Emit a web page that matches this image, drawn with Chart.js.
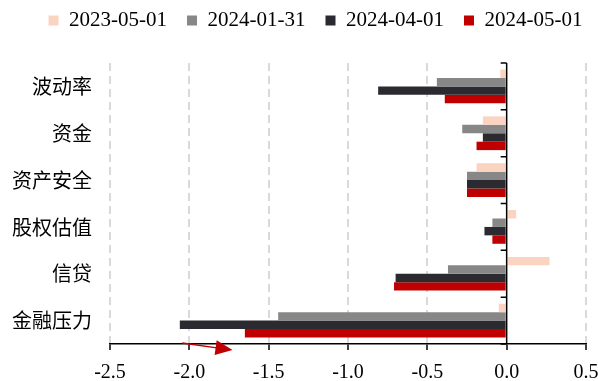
<!DOCTYPE html>
<html>
<head>
<meta charset="utf-8">
<script src="https://cdn.jsdelivr.net/npm/chart.js@4.4.1/dist/chart.umd.min.js"></script>
<style>
html,body{margin:0;padding:0;background:#fff;}
#wrap{width:598px;height:381px;position:relative;}
</style>
</head>
<body>
<div id="wrap"><canvas id="c" width="598" height="381"></canvas></div>
<script>
const categories = ['波动率','资金','资产安全','股权估值','信贷','金融压力'];
const seriesNames = ['2023-05-01','2024-01-31','2024-04-01','2024-05-01'];
const s2023_05_01 = [-0.04, -0.15, -0.19, 0.06, 0.27, -0.05];
const s2024_01_31 = [-0.44, -0.28, -0.25, -0.09, -0.37, -1.44];
const s2024_04_01 = [-0.81, -0.15, -0.25, -0.14, -0.70, -2.06];
const s2024_05_01 = [-0.39, -0.19, -0.25, -0.09, -0.71, -1.65];
const xTicks = [-2.5, -2.0, -1.5, -1.0, -0.5, 0.0, 0.5];
const colors = ['#FBD3C1', '#878787', '#2B2A30', '#C00000'];

const allSeries = [s2023_05_01, s2024_01_31, s2024_04_01, s2024_05_01];

const zeroAxisPlugin = {
  id: 'zeroAxis',
  afterDatasetsDraw(chart) {
    const {ctx, scales: {x, y}} = chart;
    const x0 = x.getPixelForValue(0);
    ctx.save();
    ctx.strokeStyle = '#000';
    ctx.lineWidth = 1.5;
    ctx.beginPath();
    ctx.moveTo(x0, y.top);
    ctx.lineTo(x0, y.bottom);
    ctx.stroke();
    const n = categories.length;
    const bounds = [y.top];
    for (let i = 0; i < n - 1; i++) {
      bounds.push((y.getPixelForValue(i) + y.getPixelForValue(i + 1)) / 2);
    }
    bounds.push(y.bottom);
    ctx.beginPath();
    bounds.forEach(b => { ctx.moveTo(x0 - 6, b); ctx.lineTo(x0, b); });
    ctx.stroke();
    // red arrow annotation
    const ax1 = x.getPixelForValue(-2.045), ay1 = y.bottom - 1;
    const ax2 = x.getPixelForValue(-1.728), ay2 = y.bottom + 6;
    const ang = Math.atan2(ay2 - ay1, ax2 - ax1);
    ctx.strokeStyle = '#C00000';
    ctx.fillStyle = '#C00000';
    ctx.lineWidth = 1.3;
    ctx.beginPath();
    ctx.moveTo(ax1, ay1);
    ctx.lineTo(ax2 - 14 * Math.cos(ang), ay2 - 14 * Math.sin(ang));
    ctx.stroke();
    const hl = 17, hw = 7.5;
    const bx = ax2 - hl * Math.cos(ang), by = ay2 - hl * Math.sin(ang);
    ctx.beginPath();
    ctx.moveTo(ax2, ay2);
    ctx.lineTo(bx + hw * Math.sin(ang), by - hw * Math.cos(ang));
    ctx.lineTo(bx - hw * Math.sin(ang), by + hw * Math.cos(ang));
    ctx.closePath();
    ctx.fill();
    ctx.restore();
  }
};

new Chart(document.getElementById('c'), {
  type: 'bar',
  data: {
    labels: categories,
    datasets: seriesNames.map((name, i) => ({
      label: name,
      data: allSeries[i],
      backgroundColor: colors[i],
      borderWidth: 0,
      categoryPercentage: 0.72,
      barPercentage: 1.0
    }))
  },
  options: {
    indexAxis: 'y',
    responsive: false,
    animation: false,
    devicePixelRatio: 1,
    layout: { padding: { left: 6, right: -27, top: -10, bottom: 0 } },
    plugins: {
      legend: {
        position: 'top',
        labels: {
          font: { family: 'Liberation Serif', size: 21 },
          color: '#000',
          boxWidth: 10,
          boxHeight: 10,
          padding: 20
        }
      },
      tooltip: { enabled: false }
    },
    scales: {
      x: {
        type: 'linear',
        min: -2.5,
        max: 0.5,
        afterBuildTicks(scale) { scale.ticks = xTicks.map(v => ({ value: v })); },
        afterFit(scale) { scale.height = 37; scale.paddingRight = 12; scale.paddingLeft = 0; },
        ticks: {
          font: { family: 'Liberation Serif', size: 20 },
          color: '#000',
          padding: 11,
          callback: v => v.toFixed(1)
        },
        grid: {
          color: ctx => (ctx.tick && ctx.tick.value === 0) ? 'rgba(0,0,0,0)' : '#D9D9D9',
          lineWidth: 2,
          tickColor: '#000',
          tickWidth: 1.5,
          tickLength: 6
        },
        border: { display: true, color: '#000', width: 1.5, dash: [8, 5] }
      },
      xTop: {
        type: 'linear',
        position: 'top',
        display: true,
        ticks: { display: false },
        grid: { display: false, drawTicks: false },
        border: { display: false },
        afterFit(scale) { scale.height = 22; }
      },
      y: {
        afterFit(scale) { scale.width = 104; },
        ticks: {
          font: { family: 'Noto Sans CJK SC', size: 20 },
          color: '#000',
          padding: 18
        },
        grid: { display: false, drawTicks: false },
        border: { display: false }
      }
    }
  },
  plugins: [zeroAxisPlugin]
});
</script>
</body>
</html>
